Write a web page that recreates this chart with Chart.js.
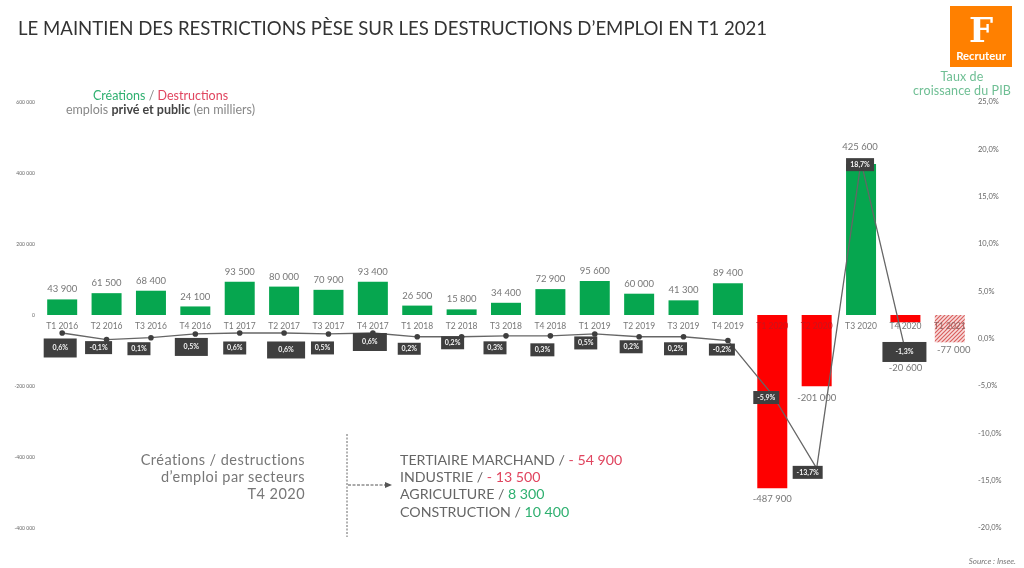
<!DOCTYPE html>
<html lang="fr">
<head>
<meta charset="utf-8">
<title>Créations et destructions d'emploi</title>
<script src="https://cdn.jsdelivr.net/npm/chart.js@4/dist/chart.umd.min.js"></script>
<style>
    html, body { margin: 0; padding: 0; background: #fff; }
    #page { position: relative; width: 1024px; height: 568px; overflow: hidden; font-family: Lato, sans-serif; color: #777; }
    #page canvas { position: absolute; left: 0; top: 0; }
    .txt { position: absolute; white-space: nowrap; }
    .green { color: #2fb070; }
    .red { color: #e0455f; }
    #title { left: 18px; top: 15px; font-size: 18.6px; line-height: 26px; color: #333; }
    #logo { position: absolute; left: 950px; top: 6px; width: 62px; height: 61px; background: #ff8000; color: #fff; text-align: center; }
    #logoF { position: absolute; left: 0; right: 0; top: 4px; font: bold 34px/40px "DejaVu Serif", serif; }
    #logoName { position: absolute; left: 0; right: 0; top: 43px; font: bold 11.3px/14px Lato, sans-serif; }
    #gdpTitle { left: 906px; width: 112px; top: 70px; font-size: 12.5px; line-height: 14px; text-align: center; color: #6fbf94; letter-spacing: 0.1px; }
    #jobsTitle { left: 40px; width: 241px; top: 89px; font-size: 12.5px; line-height: 14px; text-align: center; color: #888; }
    #jobsTitle b { color: #444; }
    #sectorsLeft { left: 100px; width: 205px; top: 451px; font-size: 14.5px; line-height: 17.2px; text-align: right; letter-spacing: 0.45px; }
    #sectorsRight { left: 400px; top: 451px; font-size: 14.2px; line-height: 17.2px; color: #666; }
    #source { right: 8px; top: 555px; font-size: 8px; line-height: 12px; font-style: italic; color: #777; }
    #deco { position: absolute; left: 0; top: 0; }
</style>
</head>
<body>
<div id="page">
    <canvas id="jobsChart" width="1024" height="568"></canvas>
    <svg id="deco" width="1024" height="568">
        <line x1="347" y1="434" x2="347" y2="537" stroke="#666" stroke-width="1" stroke-dasharray="2 1.5"></line>
        <line x1="348" y1="485" x2="386" y2="485" stroke="#555" stroke-width="1" stroke-dasharray="3 1.5"></line>
        <polygon points="392,485 385,482 385,488" fill="#555"></polygon>
    </svg>
    <div class="txt" id="title">LE MAINTIEN DES RESTRICTIONS PÈSE SUR LES DESTRUCTIONS D’EMPLOI EN T1 2021</div>
    <div id="logo"><div id="logoF">F</div><div id="logoName">Recruteur</div></div>
    <div class="txt" id="gdpTitle">Taux de<br>croissance du PIB</div>
    <div class="txt" id="jobsTitle"><span class="green">Créations</span> / <span class="red">Destructions</span><br>emplois <b>privé et public</b> (en milliers)</div>
    <div class="txt" id="sectorsLeft">Créations / destructions<br>d’emploi par secteurs<br>T4 2020</div>
    <div class="txt" id="sectorsRight">TERTIAIRE MARCHAND / <span class="red">- 54 900</span><br>INDUSTRIE / <span class="red">- 13 500</span><br>AGRICULTURE / <span class="green">8 300</span><br>CONSTRUCTION / <span class="green">10 400</span></div>
    <div class="txt" id="source">Source : Insee.</div>
</div>
<script>
const quarters = ['T1 2016', 'T2 2016', 'T3 2016', 'T4 2016', 'T1 2017', 'T2 2017', 'T3 2017', 'T4 2017',
    'T1 2018', 'T2 2018', 'T3 2018', 'T4 2018', 'T1 2019', 'T2 2019', 'T3 2019', 'T4 2019',
    'T1 2020', 'T2 2020', 'T3 2020', 'T4 2020', 'T1 2021'];
const jobChanges = [43900, 61500, 68400, 24100, 93500, 80000, 70900, 93400,
    26500, 15800, 34400, 72900, 95600, 60000, 41300, 89400,
    -487900, -201000, 425600, -20600, -77000];
const gdpGrowth = [0.6, -0.1, 0.1, 0.5, 0.6, 0.6, 0.5, 0.6,
    0.2, 0.2, 0.3, 0.3, 0.5, 0.2, 0.2, -0.2,
    -5.9, -13.7, 18.7, -1.3, null];
// bottom tick really says -400 000 twice in the source picture
const leftTickLabels = ['-400 000', '-400 000', '-200 000', '0', '200 000', '400 000', '600 000'];
const rightTickLabels = ['-20,0%', '-15,0%', '-10,0%', '-5,0%', '0,0%', '5,0%', '10,0%', '15,0%', '20,0%', '25,0%'];

// GDP tags, relative to their point: [dx, dy, width, height]
const tagLayout = [
    [-2, 15, 33, 19], [-8, 8, 27, 13], [-12, 11, 23, 13], [-4, 13, 33, 18], [-5, 15, 23, 13],
    [2, 17, 38, 17], [-6, 14, 23, 13], [-3, 9, 34, 18], [-8, 12, 23, 12], [-9, 6, 23, 13],
    [-11, 12, 23, 13], [-8, 14, 24, 13], [-9, 9, 23, 13], [-8, 10, 23, 13], [-8, 12, 23, 13],
    [-6, 9, 26, 12], [-6, 3, 26, 13], [-9, 4, 30, 13], [-1, 3, 28, 13], [-1, 1, 44, 20]
];
// gap between bar end and its value label, where it isn't the usual 10px
const labelGaps = { 16: 11, 17: 12, 18: 17, 19: 46, 20: 8 };
const labelShift = { 18: -1, 20: 4 };

const GREEN = '#06a64f';
const RED = '#fe0000';
const TEXT = '#777777';
const FONT = 'Lato, sans-serif';

function hatchPattern() {
    const c = document.createElement('canvas');
    c.width = 4;
    c.height = 4;
    const g = c.getContext('2d');
    g.fillStyle = '#f8dcdc';
    g.fillRect(0, 0, 4, 4);
    g.strokeStyle = '#d9605f';
    g.lineWidth = 1.2;
    g.beginPath();
    g.moveTo(-1, 1);
    g.lineTo(1, -1);
    g.moveTo(0, 4);
    g.lineTo(4, 0);
    g.moveTo(3, 5);
    g.lineTo(5, 3);
    g.stroke();
    return g.createPattern(c, 'repeat');
}

const barColors = jobChanges.map((v, i) => {
    if (i === jobChanges.length - 1) return hatchPattern();
    return v > 0 ? GREEN : RED;
});

const formatThousands = (v) => String(v).replace(/\B(?=(\d{3})+$)/g, ' ');

const annotations = {
    id: 'annotations',
    afterDatasetsDraw(chart) {
        const ctx = chart.ctx;
        const bars = chart.getDatasetMeta(0).data;
        const points = chart.getDatasetMeta(1).data;
        ctx.save();
        ctx.textAlign = 'center';
        ctx.textBaseline = 'middle';

        ctx.font = '9.5px ' + FONT;
        ctx.fillStyle = TEXT;
        bars.forEach((bar, i) => {
            const v = jobChanges[i];
            const gap = labelGaps[i] || 10;
            const y = v > 0 ? bar.y - gap : bar.y + gap;
            ctx.fillText(formatThousands(v), bar.x + (labelShift[i] || 0), y);
        });

        ctx.font = 'bold 7px ' + FONT;
        tagLayout.forEach((tag, i) => {
            const p = points[i];
            const cx = p.x + tag[0];
            const cy = p.y + tag[1];
            ctx.fillStyle = '#3f3f3f';
            ctx.fillRect(cx - tag[2] / 2, cy - tag[3] / 2, tag[2], tag[3]);
            ctx.fillStyle = '#f4f4f4';
            ctx.fillText(gdpGrowth[i].toFixed(1).replace('.', ',') + '%', cx, cy);
        });
        ctx.restore();
    }
};

new Chart(document.getElementById('jobsChart'), {
    data: {
        labels: quarters,
        datasets: [{
            type: 'bar',
            data: jobChanges,
            backgroundColor: barColors,
            yAxisID: 'y',
            order: 2,
            categoryPercentage: 1,
            barPercentage: 0.676
        }, {
            type: 'line',
            data: gdpGrowth,
            yAxisID: 'y1',
            order: 1,
            borderColor: '#666666',
            borderWidth: 1.3,
            tension: 0,
            pointRadius: (ctx) => ctx.dataIndex < 16 ? 2.8 : 0,
            pointBackgroundColor: '#3f3f3f',
            pointBorderWidth: 0
        }]
    },
    options: {
        responsive: false,
        animation: false,
        layout: { padding: { top: 102, bottom: 40, left: 0, right: 0 } },
        plugins: {
            legend: { display: false },
            tooltip: { enabled: false }
        },
        scales: {
            x: {
                position: { y: 0 },
                grid: { display: false, tickLength: 0 },
                border: { display: false },
                ticks: {
                    z: 1,
                    padding: 6,
                    autoSkip: false,
                    maxRotation: 0,
                    font: { family: FONT, size: 8.5 },
                    color: (ctx) => {
                        if (ctx.index === 16 || ctx.index === 17) return '#c8141c';
                        if (ctx.index === 20) return '#96605f';
                        return TEXT;
                    }
                }
            },
            y: {
                position: 'left',
                min: -600000,
                max: 600000,
                afterFit: (scale) => { scale.width = 40; },
                grid: { display: false, tickLength: 0 },
                border: { display: false },
                ticks: {
                    stepSize: 200000,
                    padding: 5,
                    font: { family: FONT, size: 5 },
                    color: '#666',
                    callback: (value, index) => leftTickLabels[index]
                }
            },
            y1: {
                position: 'right',
                min: -20,
                max: 25,
                afterFit: (scale) => { scale.width = 52; },
                grid: { display: false, tickLength: 0 },
                border: { display: false },
                ticks: {
                    stepSize: 5,
                    padding: 6,
                    font: { family: FONT, size: 7.5 },
                    color: '#666',
                    callback: (value, index) => rightTickLabels[index]
                }
            }
        }
    },
    plugins: [annotations]
});
</script>
</body>
</html>
